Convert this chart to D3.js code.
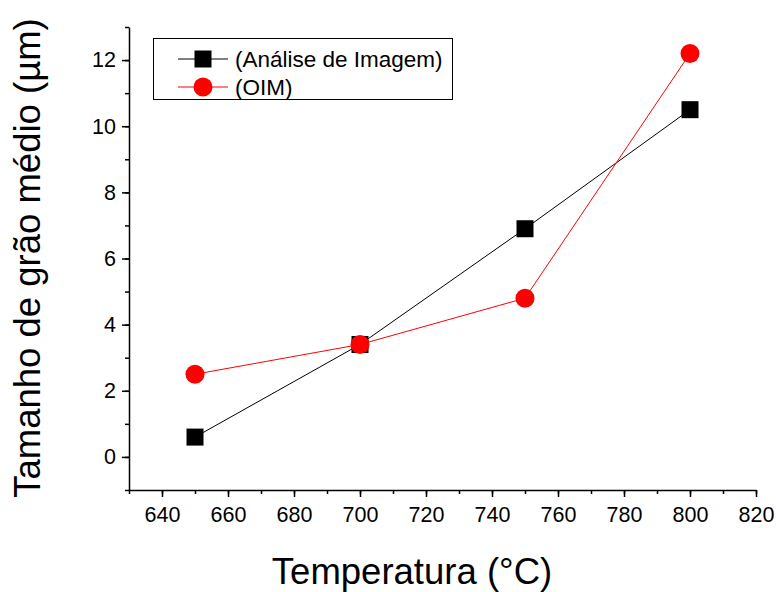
<!DOCTYPE html>
<meta charset="utf-8">
<style>
body { margin: 0; background: #fff; }
text { font-family: "Liberation Sans", Arial, sans-serif; }
.axis path, .axis line { stroke: #000; stroke-width: 1.5px; }
.axis text { font-size: 21.5px; fill: #000; font-family: "Liberation Sans", Arial, sans-serif; }
</style>
<body>
<script src="https://d3js.org/d3.v7.min.js"></script>
<script>

var width = 776,
    height = 592;

// data
var temps = [650, 700, 750, 800];
var analiseImagem = [0.6, 3.4, 6.9, 10.5];
var oim = [2.5, 3.4, 4.8, 12.2];
var xTicks = [640, 660, 680, 700, 720, 740, 760, 780, 800, 820];
var yTicks = [0, 2, 4, 6, 8, 10, 12];
var seriesNames = ["(Análise de Imagem)", "(OIM)"];

var x = d3.scaleLinear()
    .domain([630, 820])
    .range([129, 756]);

var y = d3.scaleLinear()
    .domain([-1, 13])
    .range([490, 27]);

var svg = d3.select("body").append("svg")
    .attr("width", width)
    .attr("height", height);

// minor ticks first, then major axes on top
svg.append("g")
    .attr("class", "axis")
    .attr("transform", "translate(0," + y(-1) + ")")
    .call(d3.axisBottom(x).tickValues(d3.range(630, 821, 10)).tickSize(4).tickFormat(""))
    .select(".domain").remove();

svg.append("g")
    .attr("class", "axis")
    .attr("transform", "translate(0," + y(-1) + ")")
    .call(d3.axisBottom(x).tickValues(xTicks).tickSizeInner(7).tickSizeOuter(0).tickPadding(10));

svg.append("g")
    .attr("class", "axis")
    .attr("transform", "translate(" + x(630) + ",0)")
    .call(d3.axisLeft(y).tickValues(d3.range(-1, 14, 1)).tickSize(4).tickFormat(""))
    .select(".domain").remove();

svg.append("g")
    .attr("class", "axis")
    .attr("transform", "translate(" + x(630) + ",0)")
    .call(d3.axisLeft(y).tickValues(yTicks).tickSizeInner(7).tickSizeOuter(0).tickPadding(6));

// axis titles
svg.append("text")
    .attr("x", 412)
    .attr("y", 584)
    .attr("text-anchor", "middle")
    .style("font-size", "36.5px")
    .text("Temperatura (°C)");

svg.append("text")
    .attr("transform", "translate(40,258) rotate(-90)")
    .attr("text-anchor", "middle")
    .style("font-size", "36.5px")
    .text("Tamanho de grão médio (µm)");

var line = d3.line()
    .x(function(d, i){ return x(temps[i]); })
    .y(function(d){ return y(d); });

svg.append("path")
    .datum(analiseImagem)
    .attr("d", line)
    .attr("fill", "none")
    .attr("stroke", "#000")
    .attr("stroke-width", 1);

svg.append("path")
    .datum(oim)
    .attr("d", line)
    .attr("fill", "none")
    .attr("stroke", "#ff0000")
    .attr("stroke-width", 1);

var sq = 17;
svg.selectAll("rect.pt")
    .data(analiseImagem)
    .enter().append("rect")
    .attr("class", "pt")
    .attr("x", function(d, i){ return x(temps[i]) - sq / 2; })
    .attr("y", function(d){ return y(d) - sq / 2; })
    .attr("width", sq)
    .attr("height", sq)
    .attr("fill", "#000");

svg.selectAll("circle.pt")
    .data(oim)
    .enter().append("circle")
    .attr("class", "pt")
    .attr("cx", function(d, i){ return x(temps[i]); })
    .attr("cy", function(d){ return y(d); })
    .attr("r", 9.5)
    .attr("fill", "#ff0000");

// legend
var legend = svg.append("g");
legend.append("rect")
    .attr("x", 153.5)
    .attr("y", 38.5)
    .attr("width", 299)
    .attr("height", 61)
    .attr("fill", "#fff")
    .attr("stroke", "#000")
    .attr("stroke-width", 1);

var colors = ["#000", "#ff0000"];
seriesNames.forEach(function(name, i){
  var ly = 59 + i * 28;
  legend.append("line")
    .attr("x1", 178).attr("x2", 228)
    .attr("y1", ly).attr("y2", ly)
    .attr("stroke", colors[i]);
  if (i == 0) {
    legend.append("rect")
      .attr("x", 203 - sq / 2).attr("y", ly - sq / 2)
      .attr("width", sq).attr("height", sq)
      .attr("fill", "#000");
  } else {
    legend.append("circle")
      .attr("cx", 203).attr("cy", ly)
      .attr("r", 9.5)
      .attr("fill", "#ff0000");
  }
  legend.append("text")
    .attr("x", 235)
    .attr("y", ly + 7.5)
    .style("font-size", "22.5px")
    .text(name);
});

</script>
</body>
